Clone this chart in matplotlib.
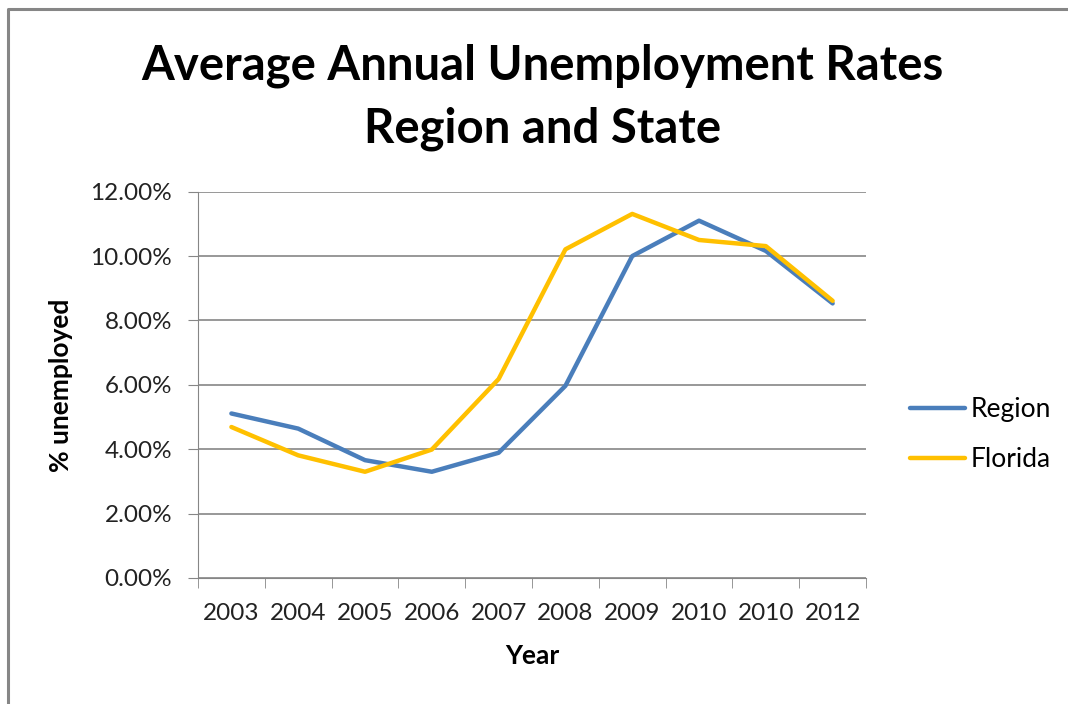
import matplotlib.pyplot as plt
from matplotlib.lines import Line2D
from matplotlib.ticker import FuncFormatter, MultipleLocator
import numpy as np

# Data
years = ['2003', '2004', '2005', '2006', '2007', '2008', '2009', '2010', '2010', '2012']
region = [5.11, 4.64, 3.66, 3.30, 3.89, 5.97, 10.00, 11.10, 10.16, 8.53]
florida = [4.69, 3.81, 3.30, 3.99, 6.18, 10.21, 11.31, 10.50, 10.31, 8.61]

plt.rcParams['font.family'] = ['Lato', 'DejaVu Sans']

fig = plt.figure(figsize=(10.68, 7.04), dpi=100)
ax = fig.add_axes([0.1854, 0.179, 0.6255, 0.5487])

x = np.arange(len(years))
ax.plot(x, region, color='#4A7EBB', lw=3.2, label='Region', solid_capstyle='round')
ax.plot(x, florida, color='#FFC000', lw=3.2, label='Florida', solid_capstyle='round')

ax.set_xlim(-0.5, len(years) - 0.5)
ax.set_ylim(0, 12)
ax.yaxis.set_major_locator(MultipleLocator(2))
ax.yaxis.set_major_formatter(FuncFormatter(lambda v, p: f'{v:.2f}%'))
ax.set_xticks(x)
ax.set_xticklabels(years)
ax.set_xticks(np.arange(-0.5, len(years), 1), minor=True)
ax.tick_params(axis='x', which='major', length=0, pad=18, labelsize=17.5, labelcolor='#222222')
ax.tick_params(axis='x', which='minor', length=7, color='#868686', direction='out')
ax.tick_params(axis='y', length=7.2, color='#868686', labelsize=17.5, pad=11.5,
               labelcolor='#222222')

ax.grid(axis='y', color='#868686', lw=1.2)
ax.set_axisbelow(True)
for s in ['top', 'right']:
    ax.spines[s].set_visible(False)
ax.spines['left'].set_color('#868686')
ax.spines['bottom'].set_color('#868686')

ax.set_xlabel('Year', fontsize=19, fontweight='bold')
ax.set_ylabel('% unemployed', fontsize=19, fontweight='bold')
ax.xaxis.set_label_coords(0.5, -0.17)
ax.yaxis.set_label_coords(-0.187, 0.5)

fig.text(0.508, 0.8864, 'Average Annual Unemployment Rates', ha='center', va='baseline',
         fontsize=34, fontweight='bold')
fig.text(0.508, 0.798, 'Region and State', ha='center', va='baseline',
         fontsize=34, fontweight='bold')

ax.legend(loc='center left', bbox_to_anchor=(1.066, 0.371), frameon=False,
          borderpad=0, borderaxespad=0, fontsize=19, handlelength=2.08,
          handletextpad=0.2, labelspacing=0.95)

# chart frame (top and left edges visible)
fig.add_artist(Line2D([8 / 1068, 8 / 1068, 1.0], [0.0, 1 - 9 / 704, 1 - 9 / 704],
                      transform=fig.transFigure, color='#868686', lw=2.2))

plt.savefig('out.png', dpi=100)
